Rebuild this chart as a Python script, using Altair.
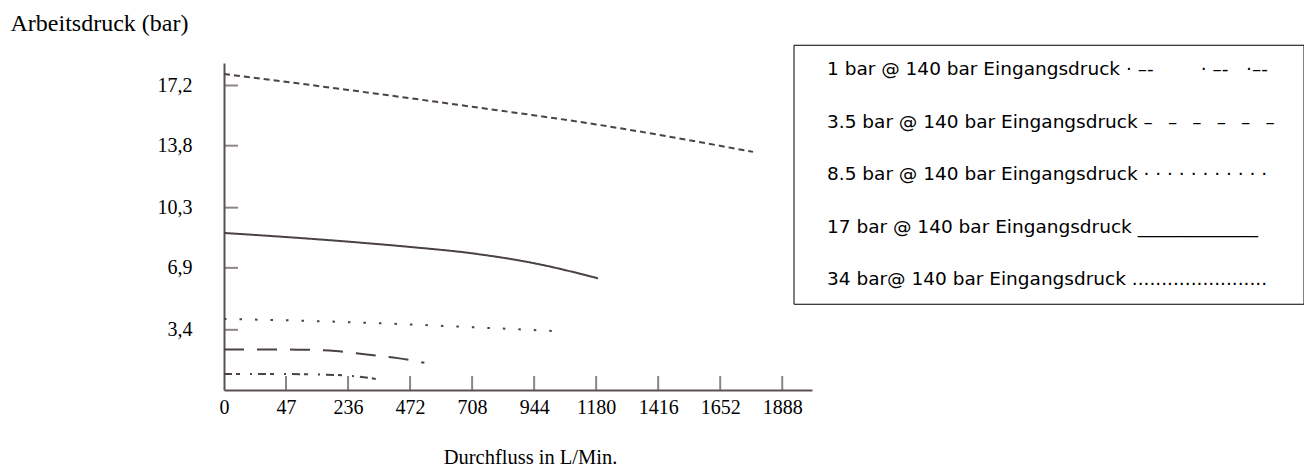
import altair as alt
import pandas as pd

# ---- data ----
x_tick_labels = ["0", "47", "236", "472", "708", "944", "1180", "1416", "1652", "1888"]
y_tick_values = [3.4, 6.9, 10.3, 13.8, 17.2]

NB = "\u00a0"
legend_labels = [
    "1 bar @ 140 bar Eingangsdruck · –-" + NB * 8 + "· –-" + NB * 3 + "·–-",
    "3.5 bar @ 140 bar Eingangsdruck " + ("\u2002" + NB).join(["–"] * 6),
    "8.5 bar @ 140 bar Eingangsdruck " + " ".join(["·"] * 11),
    "17 bar @ 140 bar Eingangsdruck " + "_" * 13,
    "34 bar@ 140 bar Eingangsdruck " + "." * 23,
]

# x = position along the (evenly spaced) flow axis, y = working pressure in bar
s1_x = [0, 1, 1.8, 2.06, 2.5]
s1_y = [0.9, 0.9, 0.85, 0.79, 0.6]
s2_x = [0, 1.2, 1.8, 2.3, 2.8, 3.23]
s2_y = [2.29, 2.28, 2.2, 2.0, 1.8, 1.54]
s3_x = [0, 1.2, 2.8, 4.3, 5.34]
s3_y = [4.01, 3.92, 3.73, 3.5, 3.33]
s4_x = [0, 1, 2, 3, 4, 5, 6.03]
s4_y = [8.87, 8.64, 8.38, 8.08, 7.72, 7.16, 6.31]
s5_x = [0, 2, 4, 6, 8.53]
s5_y = [17.85, 16.95, 16.0, 15.0, 13.45]

# ---- styles ----
dash_patterns = [[8, 4, 4, 10, 2, 6], [20, 13], [2.5, 13], [1, 0], [6, 4]]
LINE = "#4b4244"
AXIS = "#5b5152"
SERIF = "Liberation Serif"

rows = []
for name, xs, ys in zip(legend_labels, [s1_x, s2_x, s3_x, s4_x, s5_x],
                        [s1_y, s2_y, s3_y, s4_y, s5_y]):
    for a, b in zip(xs, ys):
        rows.append({"pos": a, "bar": b, "serie": name})
df = pd.DataFrame(rows)

label_array = "[" + ",".join("'%s'" % t for t in x_tick_labels) + "]"

x_scale = alt.Scale(domain=[0, 9.48], nice=False, zero=False)
y_scale = alt.Scale(domain=[0, 18.47], nice=False, zero=True)

X_TITLE = "Durchfluss in L/Min."
Y_TITLE = "Arbeitsdruck (bar)"

lines = alt.Chart(df).mark_line(
    strokeWidth=2, color=LINE, interpolate="monotone", strokeCap="butt"
).encode(
    x=alt.X("pos:Q", scale=x_scale, title=X_TITLE, axis=alt.Axis(
        values=list(range(len(x_tick_labels))),
        labelExpr=label_array + "[round(datum.value)]",
        ticks=False, grid=False, domainColor=AXIS, domainWidth=2,
        labelFont=SERIF, labelFontSize=20, labelColor="black", labelPadding=7,
        labelFlush=False, labelOverlap=False,
        titleFont=SERIF, titleFontSize=20.5, titleFontWeight="normal", titleColor="black",
        titleX=306, titleY=73, titleAlign="center", titleBaseline="alphabetic",
    )),
    y=alt.Y("bar:Q", scale=y_scale, title=Y_TITLE, axis=alt.Axis(
        values=y_tick_values,
        labelExpr="replace(format(datum.value, '.1f'), '.', ',')",
        ticks=False, grid=False, domainColor=AXIS, domainWidth=2,
        labelFont=SERIF, labelFontSize=20, labelColor="black", labelPadding=32,
        labelOverlap=False,
        titleFont=SERIF, titleFontSize=24, titleFontWeight="normal", titleColor="black",
        titleAngle=0, titleX=-214, titleY=-33, titleAlign="left", titleBaseline="alphabetic",
    )),
    strokeDash=alt.StrokeDash("serie:N", scale=alt.Scale(domain=legend_labels, range=dash_patterns),
        legend=alt.Legend(
            title=" ", titleOrient="right", titlePadding=14, titleFontSize=18,
            orient="none", legendX=569.5, legendY=-18.25,
            strokeColor="black", fillColor="white", padding=15,
            symbolType="stroke", symbolSize=1, symbolOpacity=0, symbolStrokeWidth=0,
            labelFont="DejaVu Sans", labelFontSize=18.5, labelColor="black",
            labelOffset=0, rowPadding=33.5, labelLimit=700,
        )),
)

y_ticks = alt.Chart(pd.DataFrame({"bar": y_tick_values})).mark_tick(
    orient="horizontal", size=14, thickness=2, xOffset=7, color=AXIS
).encode(x=alt.datum(0, scale=x_scale), y=alt.Y("bar:Q", scale=y_scale, title=Y_TITLE))

x_ticks = alt.Chart(pd.DataFrame({"pos": list(range(1, len(x_tick_labels)))})).mark_tick(
    orient="vertical", size=14, thickness=2, yOffset=-7, color=AXIS
).encode(x=alt.X("pos:Q", scale=x_scale, title=X_TITLE), y=alt.datum(0, scale=y_scale))

chart = alt.layer(lines, y_ticks, x_ticks).properties(
    width=588, height=327,
    padding={"left": 2, "top": 3, "right": 0, "bottom": 0},
    background="white",
).configure_view(stroke=None)

chart.save("out.html", embed_options={"renderer": "svg", "actions": False})
